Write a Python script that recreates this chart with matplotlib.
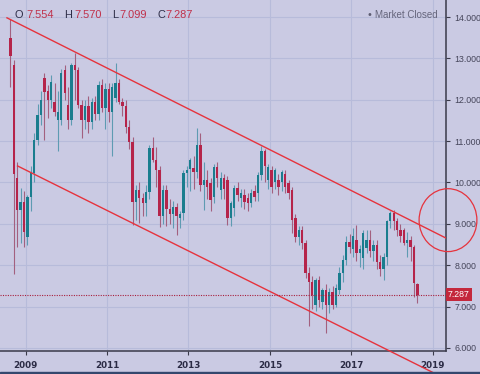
import numpy as np
import pandas as pd
import matplotlib
matplotlib.use("Agg")
import matplotlib.pyplot as plt
from matplotlib.patches import Ellipse, Rectangle

# monthly OHLC, Aug 2008 .. Aug 2018
opens = [13.50, 12.85, 10.10, 9.34, 9.54, 8.69, 9.66, 10.22, 11.03, 11.63,
         12.53, 12.20, 12.00, 11.95, 11.51, 11.51, 12.72, 11.87, 11.51, 12.84,
         12.72, 11.87, 11.51, 11.85, 11.45, 11.95, 11.65, 12.35, 11.80, 12.25,
         11.70, 12.05, 12.40, 11.95, 11.85, 11.35, 10.99, 9.54, 9.82, 9.62,
         9.50, 9.78, 10.83, 10.55, 10.30, 9.18, 9.82, 9.36, 9.25, 9.40,
         9.15, 9.26, 10.22, 10.33, 10.35, 10.25, 10.90, 9.94, 10.05, 9.99,
         9.66, 10.38, 9.82, 10.10, 10.05, 9.14, 9.38, 9.86, 9.62, 9.70,
         9.62, 9.50, 9.80, 9.74, 10.18, 10.75, 10.06, 10.30, 10.00, 10.06,
         10.02, 10.20, 9.99, 9.82, 9.14, 8.69, 8.85, 8.54, 7.82, 7.60,
         7.05, 7.65, 7.10, 7.40, 7.04, 7.35, 7.05, 7.41, 7.82, 8.13,
         8.57, 8.40, 8.61, 8.29, 8.17, 8.42, 8.61, 8.35, 8.49, 8.08,
         7.90, 8.21, 9.06, 9.26, 9.06, 8.85, 8.85, 8.54, 8.62, 8.45,
         7.554]
highs = [13.95, 12.95, 10.50, 9.87, 9.80, 9.70, 10.40, 11.20, 11.90, 12.20,
         12.65, 12.35, 12.60, 12.40, 12.20, 12.75, 12.85, 12.30, 12.90, 13.13,
         12.80, 12.00, 12.00, 12.10, 12.05, 12.10, 12.45, 12.50, 12.40, 12.40,
         12.40, 12.88, 12.50, 12.05, 12.00, 11.50, 11.10, 9.95, 10.00, 9.75,
         9.95, 10.90, 11.11, 10.85, 10.40, 9.95, 9.95, 9.60, 9.55, 9.50,
         9.30, 10.30, 10.40, 10.60, 10.65, 11.31, 11.20, 10.50, 10.30, 10.10,
         10.45, 10.50, 10.25, 10.20, 10.15, 9.55, 9.95, 10.00, 9.85, 9.85,
         9.75, 9.85, 9.95, 10.25, 10.87, 10.80, 10.45, 10.40, 10.35, 10.20,
         10.30, 10.30, 10.05, 9.90, 9.25, 8.95, 8.95, 8.60, 7.95, 7.75,
         7.70, 7.75, 7.45, 7.55, 7.45, 7.50, 7.55, 7.95, 8.25, 8.70,
         8.75, 8.90, 8.98, 8.50, 8.85, 8.85, 8.85, 8.60, 8.60, 8.25,
         8.30, 9.10, 9.30, 9.34, 9.15, 9.00, 8.90, 8.80, 8.70, 8.50,
         7.570]
lows = [12.30, 7.78, 8.45, 8.54, 8.45, 8.50, 9.30, 10.00, 10.90, 11.40,
        11.03, 11.55, 11.80, 11.60, 10.75, 11.40, 12.00, 11.30, 11.40, 12.00,
        11.80, 11.08, 11.30, 11.20, 11.30, 11.50, 11.50, 11.70, 11.30, 11.45,
        10.63, 11.95, 11.90, 11.60, 11.20, 10.80, 8.98, 9.10, 9.02, 9.20,
        9.20, 9.60, 10.50, 9.90, 8.93, 9.00, 8.95, 9.00, 8.90, 8.73,
        8.90, 9.10, 9.90, 9.80, 9.85, 10.10, 9.80, 9.34, 9.60, 9.30,
        9.50, 9.90, 9.60, 9.60, 8.98, 8.95, 9.20, 9.55, 9.40, 9.35,
        9.30, 9.40, 9.55, 9.55, 10.05, 10.00, 9.85, 9.75, 9.85, 9.70,
        9.80, 9.75, 9.60, 8.78, 8.55, 8.50, 8.40, 7.70, 6.52, 6.95,
        6.90, 7.00, 6.95, 6.37, 6.85, 6.95, 6.98, 7.30, 7.60, 8.00,
        8.30, 8.20, 8.10, 7.95, 7.90, 8.30, 8.20, 8.10, 7.90, 7.75,
        7.65, 8.00, 8.90, 8.85, 8.70, 8.55, 8.50, 8.20, 8.10, 7.24,
        7.099]
closes = [13.05, 10.20, 9.34, 9.54, 8.81, 9.66, 10.22, 11.03, 11.63, 12.00,
          12.19, 12.00, 12.44, 11.71, 11.71, 12.64, 12.16, 11.51, 12.84, 12.72,
          11.87, 11.51, 11.85, 11.45, 11.95, 11.65, 12.35, 11.80, 12.25, 11.70,
          12.32, 12.40, 11.95, 11.85, 11.35, 10.99, 9.54, 9.82, 9.62, 9.50,
          9.78, 10.83, 10.55, 10.30, 9.18, 9.82, 9.36, 9.25, 9.40, 9.20,
          9.25, 10.22, 10.30, 10.55, 10.25, 10.90, 9.94, 10.05, 9.90, 9.58,
          10.38, 10.10, 10.10, 9.85, 9.14, 9.50, 9.86, 9.70, 9.74, 9.54,
          9.50, 9.74, 9.65, 10.18, 10.75, 10.39, 10.38, 9.90, 10.30, 9.90,
          10.26, 9.90, 9.75, 9.10, 8.69, 8.85, 8.54, 7.82, 7.60, 7.28,
          7.65, 7.15, 7.40, 7.04, 7.35, 7.05, 7.45, 7.82, 8.13, 8.57,
          8.45, 8.70, 8.29, 8.40, 8.78, 8.61, 8.35, 8.50, 8.08, 7.90,
          8.20, 9.06, 9.26, 9.06, 8.85, 8.70, 8.54, 8.62, 8.45, 7.57,
          7.287]

# channel lines (date, price)
upper_line = [(2008.54, 13.98), (2019.40, 8.62)]
lower_line = [(2008.80, 10.40), (2019.02, 5.40)]
last_price = 7.287
year_ticks = [2009, 2011, 2013, 2015, 2017, 2019]
price_ticks = [6, 7, 8, 9, 10, 11, 12, 13, 14]

BG = "#cacae3"
UP = "#1a7d8e"
DOWN = "#b5244a"
LINE_RED = "#e6333d"

months = pd.date_range("2008-08-01", periods=len(closes), freq="MS")
x = np.array(months.year + (months.month - 0.5) / 12.0)
o = np.array(opens)
h = np.array(highs)
l = np.array(lows)
c = np.array(closes)
up = c >= o

fig = plt.figure(figsize=(4.8, 3.74), dpi=100, facecolor=BG)
ax = fig.add_axes([0, 0.0602, 446 / 480, 1 - 0.0602])
ax.set_facecolor(BG)

for t in year_ticks:
    ax.axvline(t, color="#b7bbda", lw=0.8, zorder=0)
for p in price_ticks:
    ax.axhline(p, color="#b7bbda", lw=0.8, zorder=0)

# wicks then bodies
ax.vlines(x[up], l[up], h[up], color="#5e9bb2", lw=0.8, zorder=2)
ax.vlines(x[~up], l[~up], h[~up], color="#a3607f", lw=0.8, zorder=2)
body_w = 0.058
bottoms = np.minimum(o, c)
heights = np.maximum(np.abs(c - o), 0.03)
ax.bar(x[up], heights[up], width=body_w, bottom=bottoms[up], color=UP, zorder=3)
ax.bar(x[~up], heights[~up], width=body_w, bottom=bottoms[~up], color=DOWN, zorder=3)

# trend channel
ax.plot(*zip(*upper_line), color=LINE_RED, lw=1.0, zorder=4)
ax.plot(*zip(*lower_line), color=LINE_RED, lw=1.0, zorder=4, clip_on=False)
ax.add_patch(Ellipse((2019.376, 9.09), 1.42, 1.52, fill=False, ec=LINE_RED,
                     lw=0.9, clip_on=False, zorder=5))

# last price
ax.axhline(last_price, color="#a8203e", lw=0.8, ls=(0, (1, 1.2)), zorder=4)
ax.text(1.004, last_price, f"{last_price:.3f}", transform=ax.get_yaxis_transform(),
        ha="left", va="center", color="white", fontsize=6.3, family="Liberation Sans",
        bbox=dict(boxstyle="square,pad=0.25", fc="#c4283c", ec="none"), zorder=6)

ax.set_xlim(2008.369, 2019.327)
ax.set_ylim(5.915, 14.411)

ax.yaxis.tick_right()
ax.set_yticks(price_ticks)
ax.set_yticklabels([f"{p:.3f}" for p in price_ticks], family="Liberation Sans",
                   fontsize=6.3, color="#45455a")
ax.set_xticks(year_ticks)
ax.set_xticklabels([str(t) for t in year_ticks], family="DejaVu Sans",
                   fontweight="bold", fontsize=6.3, color="#2b2b45")
ax.tick_params(axis="y", length=3, width=0.8, color="#3a3a4a", pad=3)
ax.tick_params(axis="x", length=3, width=0.8, color="#3a3a4a", pad=4)
for s in ["left", "top"]:
    ax.spines[s].set_visible(False)
for s in ["right", "bottom"]:
    ax.spines[s].set_color("#3a3a4a")
    ax.spines[s].set_linewidth(1.1)

# header legend
def px(xp, yp):
    return xp / 480, 1 - yp / 374

hdr = [("O", 14.5, "#2e2e48"), ("7.554", 26, "#c0304a"),
       ("H", 64.5, "#2e2e48"), ("7.570", 74.5, "#c0304a"),
       ("L", 112.5, "#2e2e48"), ("7.099", 119.5, "#c0304a"),
       ("C", 157.5, "#2e2e48"), ("7.287", 165.5, "#c0304a")]
for txt, xp, col in hdr:
    fig.text(*px(xp, 17.5), txt, color=col, fontsize=7.9, family="Liberation Sans",
             va="baseline", ha="left")

fig.text(*px(369.5, 15), "\u2022", color="#5d5d72", fontsize=7, ha="center",
         va="center", family="DejaVu Sans")
fig.text(*px(375, 18), "Market Closed", color="#66667c", fontsize=7.0,
         family="Liberation Sans", va="baseline", ha="left")

# bottom strip
fig.patches.append(Rectangle((0, 0), 1, 2.5 / 374, transform=fig.transFigure,
                             color="#34486e", zorder=10))

fig.savefig("out.png", dpi=100, facecolor=BG)
